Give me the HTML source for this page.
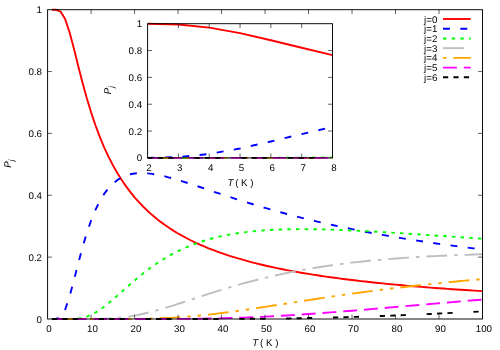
<!DOCTYPE html>
<html><head><meta charset="utf-8"><title>P_j vs T</title>
<style>html,body{margin:0;padding:0;background:#fff;}svg{display:block;}text{text-rendering:geometricPrecision;font-family:"Liberation Sans",sans-serif;font-size:9.72px;fill:#000;}</style>
</head><body>
<svg width="500" height="350" viewBox="0 0 500 350" style="will-change:transform">
<rect x="0" y="0" width="500" height="350" fill="#ffffff"/>
<defs><clipPath id="cm"><rect x="47.60" y="7.70" width="434.90" height="313.30"/></clipPath>
<clipPath id="ci"><rect x="147.60" y="21.70" width="184.90" height="138.20"/></clipPath></defs>
<g clip-path="url(#cm)" fill="none" stroke-width="1.90" stroke-linejoin="round">
<polyline points="51.95,9.70 56.30,9.79 60.65,11.70 65.00,18.76 69.34,31.48 73.69,47.74 78.04,65.15 82.39,82.14 86.74,97.95 91.09,112.33 95.44,125.27 99.79,136.89 104.14,147.31 108.49,156.69 112.84,165.15 117.18,172.81 121.53,179.78 125.88,186.13 130.23,191.94 134.58,197.28 138.93,202.19 143.28,206.73 147.63,210.94 151.98,214.85 156.32,218.49 160.67,221.88 165.02,225.06 169.37,228.04 173.72,230.83 178.07,233.46 182.42,235.94 186.77,238.28 191.12,240.50 195.47,242.59 199.81,244.58 204.16,246.47 208.51,248.26 212.86,249.97 217.21,251.60 221.56,253.15 225.91,254.64 230.26,256.05 234.61,257.41 238.96,258.71 243.31,259.96 247.65,261.15 252.00,262.30 256.35,263.41 260.70,264.47 265.05,265.49 269.40,266.47 273.75,267.42 278.10,268.34 282.45,269.22 286.80,270.07 291.14,270.90 295.49,271.69 299.84,272.46 304.19,273.21 308.54,273.93 312.89,274.63 317.24,275.30 321.59,275.96 325.94,276.60 330.29,277.21 334.63,277.81 338.98,278.40 343.33,278.96 347.68,279.51 352.03,280.05 356.38,280.56 360.73,281.07 365.08,281.56 369.43,282.04 373.78,282.51 378.12,282.96 382.47,283.40 386.82,283.83 391.17,284.25 395.52,284.66 399.87,285.06 404.22,285.45 408.57,285.83 412.92,286.20 417.27,286.57 421.61,286.92 425.96,287.27 430.31,287.60 434.66,287.93 439.01,288.26 443.36,288.57 447.71,288.88 452.06,289.18 456.41,289.48 460.75,289.77 465.10,290.05 469.45,290.32 473.80,290.60 478.15,290.86 482.50,291.12" stroke="#ff0000"/>
<polyline points="51.95,319.00 56.30,318.91 60.65,317.00 65.00,309.95 69.34,297.24 73.69,281.10 78.04,264.03 82.39,247.76 86.74,233.15 91.09,220.53 95.44,209.89 99.79,201.09 104.14,193.93 108.49,188.18 112.84,183.64 117.18,180.14 121.53,177.49 125.88,175.58 130.23,174.27 134.58,173.47 138.93,173.09 143.28,173.07 147.63,173.34 151.98,173.84 156.32,174.55 160.67,175.43 165.02,176.43 169.37,177.55 173.72,178.76 178.07,180.03 182.42,181.36 186.77,182.74 191.12,184.15 195.47,185.58 199.81,187.02 204.16,188.48 208.51,189.94 212.86,191.40 217.21,192.85 221.56,194.29 225.91,195.73 230.26,197.15 234.61,198.56 238.96,199.95 243.31,201.32 247.65,202.67 252.00,204.01 256.35,205.33 260.70,206.62 265.05,207.90 269.40,209.15 273.75,210.38 278.10,211.59 282.45,212.79 286.80,213.96 291.14,215.10 295.49,216.23 299.84,217.34 304.19,218.43 308.54,219.50 312.89,220.55 317.24,221.57 321.59,222.59 325.94,223.58 330.29,224.55 334.63,225.50 338.98,226.44 343.33,227.36 347.68,228.26 352.03,229.15 356.38,230.02 360.73,230.87 365.08,231.71 369.43,232.53 373.78,233.34 378.12,234.13 382.47,234.91 386.82,235.67 391.17,236.42 395.52,237.16 399.87,237.88 404.22,238.59 408.57,239.28 412.92,239.97 417.27,240.64 421.61,241.30 425.96,241.95 430.31,242.58 434.66,243.21 439.01,243.82 443.36,244.43 447.71,245.02 452.06,245.60 456.41,246.18 460.75,246.74 465.10,247.29 469.45,247.84 473.80,248.37 478.15,248.90 482.50,249.42" stroke="#0000ff" stroke-dasharray="6.940,10.410"/>
<polyline points="51.95,319.00 56.30,319.00 60.65,319.00 65.00,319.00 69.34,318.98 73.69,318.86 78.04,318.52 82.39,317.81 86.74,316.60 91.09,314.86 95.44,312.59 99.79,309.85 104.14,306.71 108.49,303.26 112.84,299.60 117.18,295.80 121.53,291.93 125.88,288.06 130.23,284.23 134.58,280.48 138.93,276.84 143.28,273.34 147.63,269.98 151.98,266.79 156.32,263.76 160.67,260.89 165.02,258.19 169.37,255.66 173.72,253.29 178.07,251.08 182.42,249.01 186.77,247.09 191.12,245.31 195.47,243.66 199.81,242.14 204.16,240.73 208.51,239.44 212.86,238.25 217.21,237.16 221.56,236.17 225.91,235.26 230.26,234.44 234.61,233.70 238.96,233.03 243.31,232.42 247.65,231.89 252.00,231.41 256.35,230.99 260.70,230.62 265.05,230.30 269.40,230.02 273.75,229.79 278.10,229.60 282.45,229.45 286.80,229.33 291.14,229.25 295.49,229.19 299.84,229.17 304.19,229.17 308.54,229.19 312.89,229.24 317.24,229.31 321.59,229.40 325.94,229.51 330.29,229.63 334.63,229.77 338.98,229.93 343.33,230.10 347.68,230.28 352.03,230.48 356.38,230.68 360.73,230.90 365.08,231.12 369.43,231.35 373.78,231.59 378.12,231.84 382.47,232.09 386.82,232.35 391.17,232.62 395.52,232.89 399.87,233.16 404.22,233.44 408.57,233.72 412.92,234.01 417.27,234.29 421.61,234.58 425.96,234.87 430.31,235.17 434.66,235.46 439.01,235.76 443.36,236.05 447.71,236.35 452.06,236.65 456.41,236.95 460.75,237.25 465.10,237.54 469.45,237.84 473.80,238.14 478.15,238.44 482.50,238.73" stroke="#00ff00" stroke-dasharray="3.470,5.205"/>
<polyline points="51.95,319.00 56.30,319.00 60.65,319.00 65.00,319.00 69.34,319.00 73.69,319.00 78.04,319.00 82.39,319.00 86.74,318.99 91.09,318.98 95.44,318.94 99.79,318.87 104.14,318.75 108.49,318.57 112.84,318.31 117.18,317.97 121.53,317.53 125.88,316.98 130.23,316.34 134.58,315.59 138.93,314.74 143.28,313.80 147.63,312.77 151.98,311.67 156.32,310.50 160.67,309.27 165.02,307.98 169.37,306.65 173.72,305.29 178.07,303.90 182.42,302.49 186.77,301.06 191.12,299.63 195.47,298.20 199.81,296.77 204.16,295.35 208.51,293.94 212.86,292.55 217.21,291.18 221.56,289.83 225.91,288.50 230.26,287.20 234.61,285.92 238.96,284.67 243.31,283.45 247.65,282.27 252.00,281.11 256.35,279.98 260.70,278.89 265.05,277.83 269.40,276.80 273.75,275.80 278.10,274.83 282.45,273.89 286.80,272.99 291.14,272.11 295.49,271.26 299.84,270.44 304.19,269.65 308.54,268.89 312.89,268.16 317.24,267.45 321.59,266.77 325.94,266.11 330.29,265.48 334.63,264.88 338.98,264.29 343.33,263.73 347.68,263.19 352.03,262.67 356.38,262.18 360.73,261.70 365.08,261.24 369.43,260.80 373.78,260.38 378.12,259.98 382.47,259.59 386.82,259.22 391.17,258.87 395.52,258.53 399.87,258.21 404.22,257.90 408.57,257.60 412.92,257.32 417.27,257.05 421.61,256.80 425.96,256.55 430.31,256.32 434.66,256.10 439.01,255.89 443.36,255.69 447.71,255.50 452.06,255.32 456.41,255.15 460.75,254.98 465.10,254.83 469.45,254.69 473.80,254.55 478.15,254.42 482.50,254.30" stroke="#bebebe" stroke-dasharray="20.820,6.940,3.470,6.940"/>
<polyline points="51.95,319.00 56.30,319.00 60.65,319.00 65.00,319.00 69.34,319.00 73.69,319.00 78.04,319.00 82.39,319.00 86.74,319.00 91.09,319.00 95.44,319.00 99.79,319.00 104.14,319.00 108.49,319.00 112.84,318.99 117.18,318.99 121.53,318.98 125.88,318.96 130.23,318.93 134.58,318.89 138.93,318.84 143.28,318.76 147.63,318.67 151.98,318.56 156.32,318.42 160.67,318.26 165.02,318.07 169.37,317.85 173.72,317.61 178.07,317.33 182.42,317.02 186.77,316.69 191.12,316.32 195.47,315.93 199.81,315.51 204.16,315.06 208.51,314.59 212.86,314.10 217.21,313.58 221.56,313.04 225.91,312.49 230.26,311.91 234.61,311.32 238.96,310.71 243.31,310.10 247.65,309.46 252.00,308.82 256.35,308.17 260.70,307.52 265.05,306.85 269.40,306.18 273.75,305.51 278.10,304.84 282.45,304.16 286.80,303.48 291.14,302.80 295.49,302.13 299.84,301.45 304.19,300.78 308.54,300.11 312.89,299.44 317.24,298.78 321.59,298.12 325.94,297.47 330.29,296.82 334.63,296.18 338.98,295.55 343.33,294.92 347.68,294.31 352.03,293.69 356.38,293.09 360.73,292.49 365.08,291.90 369.43,291.32 373.78,290.75 378.12,290.19 382.47,289.63 386.82,289.09 391.17,288.55 395.52,288.02 399.87,287.50 404.22,286.98 408.57,286.48 412.92,285.98 417.27,285.49 421.61,285.02 425.96,284.55 430.31,284.08 434.66,283.63 439.01,283.18 443.36,282.74 447.71,282.31 452.06,281.89 456.41,281.48 460.75,281.07 465.10,280.67 469.45,280.28 473.80,279.90 478.15,279.52 482.50,279.15" stroke="#ffa500" stroke-dasharray="3.470,6.940,20.820,6.940,3.470,6.940"/>
<polyline points="51.95,319.00 56.30,319.00 60.65,319.00 65.00,319.00 69.34,319.00 73.69,319.00 78.04,319.00 82.39,319.00 86.74,319.00 91.09,319.00 95.44,319.00 99.79,319.00 104.14,319.00 108.49,319.00 112.84,319.00 117.18,319.00 121.53,319.00 125.88,319.00 130.23,319.00 134.58,319.00 138.93,319.00 143.28,319.00 147.63,318.99 151.98,318.99 156.32,318.98 160.67,318.97 165.02,318.96 169.37,318.95 173.72,318.93 178.07,318.90 182.42,318.88 186.77,318.84 191.12,318.80 195.47,318.75 199.81,318.69 204.16,318.63 208.51,318.55 212.86,318.47 217.21,318.37 221.56,318.27 225.91,318.16 230.26,318.03 234.61,317.90 238.96,317.75 243.31,317.59 247.65,317.42 252.00,317.24 256.35,317.05 260.70,316.85 265.05,316.64 269.40,316.42 273.75,316.19 278.10,315.95 282.45,315.70 286.80,315.44 291.14,315.17 295.49,314.89 299.84,314.61 304.19,314.32 308.54,314.02 312.89,313.71 317.24,313.40 321.59,313.08 325.94,312.75 330.29,312.42 334.63,312.08 338.98,311.74 343.33,311.39 347.68,311.04 352.03,310.69 356.38,310.33 360.73,309.97 365.08,309.61 369.43,309.24 373.78,308.87 378.12,308.50 382.47,308.13 386.82,307.76 391.17,307.39 395.52,307.01 399.87,306.63 404.22,306.26 408.57,305.88 412.92,305.50 417.27,305.13 421.61,304.75 425.96,304.37 430.31,304.00 434.66,303.62 439.01,303.25 443.36,302.88 447.71,302.51 452.06,302.13 456.41,301.77 460.75,301.40 465.10,301.03 469.45,300.67 473.80,300.31 478.15,299.95 482.50,299.59" stroke="#ff00ff" stroke-dasharray="13.880,6.940"/>
<polyline points="51.95,319.00 56.30,319.00 60.65,319.00 65.00,319.00 69.34,319.00 73.69,319.00 78.04,319.00 82.39,319.00 86.74,319.00 91.09,319.00 95.44,319.00 99.79,319.00 104.14,319.00 108.49,319.00 112.84,319.00 117.18,319.00 121.53,319.00 125.88,319.00 130.23,319.00 134.58,319.00 138.93,319.00 143.28,319.00 147.63,319.00 151.98,319.00 156.32,319.00 160.67,319.00 165.02,319.00 169.37,319.00 173.72,319.00 178.07,319.00 182.42,319.00 186.77,318.99 191.12,318.99 195.47,318.99 199.81,318.98 204.16,318.98 208.51,318.97 212.86,318.97 217.21,318.96 221.56,318.95 225.91,318.93 230.26,318.92 234.61,318.90 238.96,318.88 243.31,318.86 247.65,318.83 252.00,318.80 256.35,318.77 260.70,318.73 265.05,318.69 269.40,318.65 273.75,318.60 278.10,318.55 282.45,318.49 286.80,318.43 291.14,318.37 295.49,318.30 299.84,318.23 304.19,318.15 308.54,318.06 312.89,317.98 317.24,317.88 321.59,317.79 325.94,317.68 330.29,317.58 334.63,317.47 338.98,317.35 343.33,317.23 347.68,317.10 352.03,316.97 356.38,316.84 360.73,316.70 365.08,316.55 369.43,316.41 373.78,316.25 378.12,316.10 382.47,315.94 386.82,315.77 391.17,315.61 395.52,315.44 399.87,315.26 404.22,315.08 408.57,314.90 412.92,314.71 417.27,314.53 421.61,314.33 425.96,314.14 430.31,313.94 434.66,313.74 439.01,313.54 443.36,313.34 447.71,313.13 452.06,312.92 456.41,312.71 460.75,312.49 465.10,312.28 469.45,312.06 473.80,311.84 478.15,311.62 482.50,311.39" stroke="#000000" stroke-dasharray="5.205,5.205,5.205,5.205,5.205,20.820"/>
</g>
<g fill="none" stroke-width="1.90">
<line x1="443.00" y1="19.00" x2="470.70" y2="19.00" stroke="#ff0000"/>
<line x1="443.00" y1="28.72" x2="470.70" y2="28.72" stroke="#0000ff" stroke-dasharray="6.940,10.410"/>
<line x1="443.00" y1="38.44" x2="470.70" y2="38.44" stroke="#00ff00" stroke-dasharray="3.470,5.205"/>
<line x1="443.00" y1="48.16" x2="470.70" y2="48.16" stroke="#bebebe" stroke-dasharray="20.820,6.940,3.470,6.940"/>
<line x1="443.00" y1="57.88" x2="470.70" y2="57.88" stroke="#ffa500" stroke-dasharray="3.470,6.940,20.820,6.940,3.470,6.940"/>
<line x1="443.00" y1="67.60" x2="470.70" y2="67.60" stroke="#ff00ff" stroke-dasharray="13.880,6.940"/>
<line x1="443.00" y1="77.32" x2="470.70" y2="77.32" stroke="#000000" stroke-dasharray="5.205,5.205,5.205,5.205,5.205,20.820"/>
</g>
<g text-anchor="end">
<text x="437.30" y="22.55">j=0</text>
<text x="437.30" y="32.27">j=1</text>
<text x="437.30" y="41.99">j=2</text>
<text x="437.30" y="51.71">j=3</text>
<text x="437.30" y="61.43">j=4</text>
<text x="437.30" y="71.15">j=5</text>
<text x="437.30" y="80.87">j=6</text>
</g>
<g fill="none" stroke="#000" stroke-width="0.95">
<rect x="47.60" y="9.70" width="434.90" height="309.30"/>
<path d="M91.09,319.00v-4.40 M91.09,9.70v4.40 M134.58,319.00v-4.40 M134.58,9.70v4.40 M178.07,319.00v-4.40 M178.07,9.70v4.40 M221.56,319.00v-4.40 M221.56,9.70v4.40 M265.05,319.00v-4.40 M265.05,9.70v4.40 M308.54,319.00v-4.40 M308.54,9.70v4.40 M352.03,319.00v-4.40 M352.03,9.70v4.40 M395.52,319.00v-4.40 M395.52,9.70v4.40 M439.01,319.00v-4.40 M439.01,9.70v4.40 M47.60,257.14h4.40 M482.50,257.14h-4.40 M47.60,195.28h4.40 M482.50,195.28h-4.40 M47.60,133.42h4.40 M482.50,133.42h-4.40 M47.60,71.56h4.40 M482.50,71.56h-4.40 " stroke-width="0.62"/>
</g>
<g text-anchor="middle">
<text x="49.00" y="332.00">0</text>
<text x="92.49" y="332.00">10</text>
<text x="135.98" y="332.00">20</text>
<text x="179.47" y="332.00">30</text>
<text x="222.96" y="332.00">40</text>
<text x="266.45" y="332.00">50</text>
<text x="309.94" y="332.00">60</text>
<text x="353.43" y="332.00">70</text>
<text x="396.92" y="332.00">80</text>
<text x="440.41" y="332.00">90</text>
<text x="483.90" y="332.00">100</text>
</g>
<g text-anchor="end">
<text x="42.00" y="322.50">0</text>
<text x="42.00" y="260.64">0.2</text>
<text x="42.00" y="198.78">0.4</text>
<text x="42.00" y="136.92">0.6</text>
<text x="42.00" y="75.06">0.8</text>
<text x="42.00" y="13.20">1</text>
</g>
<text x="252.35" y="346.40" font-style="italic">T</text><text x="257.42" y="346.40" xml:space="preserve"> ( K )</text>
<g transform="translate(10.80,167.80) rotate(-90)"><text x="0" y="0" font-style="italic">P</text><text x="6.48" y="3.10" font-style="italic" style="font-size:7.78px">j</text></g>
<g clip-path="url(#ci)" fill="none" stroke-width="1.90" stroke-linejoin="round">
<polyline points="147.60,23.74 178.42,24.57 209.23,27.63 240.05,33.15 270.87,40.20 301.68,47.76 332.50,55.13" stroke="#ff0000"/>
<polyline points="147.60,157.86 178.42,157.03 209.23,153.97 240.05,148.46 270.87,141.45 301.68,134.05 332.50,126.99" stroke="#0000ff" stroke-dasharray="6.940,10.410"/>
<polyline points="147.60,157.90 178.42,157.90 209.23,157.90 240.05,157.89 270.87,157.84 301.68,157.69 332.50,157.38" stroke="#00ff00" stroke-dasharray="3.470,5.205"/>
<polyline points="147.60,157.90 178.42,157.90 209.23,157.90 240.05,157.90 270.87,157.90 301.68,157.90 332.50,157.90" stroke="#bebebe" stroke-dasharray="20.820,6.940,3.470,6.940"/>
<polyline points="147.60,157.90 178.42,157.90 209.23,157.90 240.05,157.90 270.87,157.90 301.68,157.90 332.50,157.90" stroke="#ffa500" stroke-dasharray="3.470,6.940,20.820,6.940,3.470,6.940"/>
<polyline points="147.60,157.90 178.42,157.90 209.23,157.90 240.05,157.90 270.87,157.90 301.68,157.90 332.50,157.90" stroke="#ff00ff" stroke-dasharray="13.880,6.940"/>
<polyline points="147.60,157.90 178.42,157.90 209.23,157.90 240.05,157.90 270.87,157.90 301.68,157.90 332.50,157.90" stroke="#000000" stroke-dasharray="5.205,5.205,5.205,5.205,5.205,20.820"/>
</g>
<g fill="none" stroke="#000" stroke-width="0.95">
<rect x="147.60" y="23.70" width="184.90" height="134.20"/>
<path d="M178.42,157.90v-4.40 M178.42,23.70v4.40 M209.23,157.90v-4.40 M209.23,23.70v4.40 M240.05,157.90v-4.40 M240.05,23.70v4.40 M270.87,157.90v-4.40 M270.87,23.70v4.40 M301.68,157.90v-4.40 M301.68,23.70v4.40 M147.60,131.06h4.40 M332.50,131.06h-4.40 M147.60,104.22h4.40 M332.50,104.22h-4.40 M147.60,77.38h4.40 M332.50,77.38h-4.40 M147.60,50.54h4.40 M332.50,50.54h-4.40 " stroke-width="0.62"/>
</g>
<g text-anchor="middle">
<text x="149.00" y="171.40">2</text>
<text x="179.82" y="171.40">3</text>
<text x="210.63" y="171.40">4</text>
<text x="241.45" y="171.40">5</text>
<text x="272.27" y="171.40">6</text>
<text x="303.08" y="171.40">7</text>
<text x="333.90" y="171.40">8</text>
</g>
<g text-anchor="end">
<text x="142.05" y="161.40">0</text>
<text x="142.05" y="134.56">0.2</text>
<text x="142.05" y="107.72">0.4</text>
<text x="142.05" y="80.88">0.6</text>
<text x="142.05" y="54.04">0.8</text>
<text x="142.05" y="27.20">1</text>
</g>
<text x="227.40" y="186.30" font-style="italic">T</text><text x="232.47" y="186.30" xml:space="preserve"> ( K )</text>
<g transform="translate(110.80,94.25) rotate(-90)"><text x="0" y="0" font-style="italic">P</text><text x="6.48" y="3.10" font-style="italic" style="font-size:7.78px">j</text></g>
</svg></body></html>
